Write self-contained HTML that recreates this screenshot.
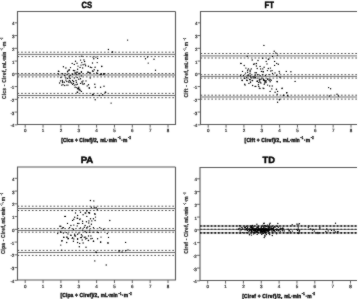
<!DOCTYPE html>
<html><head><meta charset="utf-8"><style>
html,body{margin:0;padding:0;background:#fff;}
svg{display:block;}
.wrap{filter:grayscale(1);}
text{font-family:"Liberation Sans", sans-serif;text-rendering:geometricPrecision;}
</style></head><body>
<div class="wrap"><svg width="358" height="299" viewBox="0 0 358 299" xmlns="http://www.w3.org/2000/svg">
<defs><filter id="bl" x="0" y="0" width="358" height="299" filterUnits="userSpaceOnUse" color-interpolation-filters="sRGB"><feConvolveMatrix order="3" kernelMatrix="1 2 1 2 24 2 1 2 1" divisor="36" edgeMode="duplicate" preserveAlpha="true"/></filter></defs>
<g filter="url(#bl)">
<rect width="358" height="299" fill="#fff"/>
<g transform="translate(0,0)">
<path d="M175.5,11.5 H17.5 V124.5 H175.5 V11.5" fill="none" stroke="#585858" stroke-width="1.1"/>
<line x1="14.6" y1="124.82" x2="17.5" y2="124.82" stroke="#555" stroke-width="0.9"/>
<text x="14.4" y="127.32" font-size="4.5" text-anchor="end" fill="#262626" stroke="#262626" stroke-width="0.2">-4</text>
<line x1="14.6" y1="112.07" x2="17.5" y2="112.07" stroke="#555" stroke-width="0.9"/>
<text x="14.4" y="114.57" font-size="4.5" text-anchor="end" fill="#262626" stroke="#262626" stroke-width="0.2">-3</text>
<line x1="14.6" y1="99.32" x2="17.5" y2="99.32" stroke="#555" stroke-width="0.9"/>
<text x="14.4" y="101.82" font-size="4.5" text-anchor="end" fill="#262626" stroke="#262626" stroke-width="0.2">-2</text>
<line x1="14.6" y1="86.57" x2="17.5" y2="86.57" stroke="#555" stroke-width="0.9"/>
<text x="14.4" y="89.07" font-size="4.5" text-anchor="end" fill="#262626" stroke="#262626" stroke-width="0.2">-1</text>
<line x1="14.6" y1="73.82" x2="17.5" y2="73.82" stroke="#555" stroke-width="0.9"/>
<text x="14.4" y="76.32" font-size="4.5" text-anchor="end" fill="#262626" stroke="#262626" stroke-width="0.2">0</text>
<line x1="14.6" y1="61.07" x2="17.5" y2="61.07" stroke="#555" stroke-width="0.9"/>
<text x="14.4" y="63.57" font-size="4.5" text-anchor="end" fill="#262626" stroke="#262626" stroke-width="0.2">1</text>
<line x1="14.6" y1="48.32" x2="17.5" y2="48.32" stroke="#555" stroke-width="0.9"/>
<text x="14.4" y="50.82" font-size="4.5" text-anchor="end" fill="#262626" stroke="#262626" stroke-width="0.2">2</text>
<line x1="14.6" y1="35.57" x2="17.5" y2="35.57" stroke="#555" stroke-width="0.9"/>
<text x="14.4" y="38.07" font-size="4.5" text-anchor="end" fill="#262626" stroke="#262626" stroke-width="0.2">3</text>
<line x1="14.6" y1="22.82" x2="17.5" y2="22.82" stroke="#555" stroke-width="0.9"/>
<text x="14.4" y="25.32" font-size="4.5" text-anchor="end" fill="#262626" stroke="#262626" stroke-width="0.2">4</text>
<line x1="25.20" y1="124.5" x2="25.20" y2="127.6" stroke="#555" stroke-width="0.9"/>
<text x="25.20" y="132.3" font-size="4.5" text-anchor="middle" fill="#262626" stroke="#262626" stroke-width="0.2">0</text>
<line x1="43.05" y1="124.5" x2="43.05" y2="127.6" stroke="#555" stroke-width="0.9"/>
<text x="43.05" y="132.3" font-size="4.5" text-anchor="middle" fill="#262626" stroke="#262626" stroke-width="0.2">1</text>
<line x1="60.90" y1="124.5" x2="60.90" y2="127.6" stroke="#555" stroke-width="0.9"/>
<text x="60.90" y="132.3" font-size="4.5" text-anchor="middle" fill="#262626" stroke="#262626" stroke-width="0.2">2</text>
<line x1="78.75" y1="124.5" x2="78.75" y2="127.6" stroke="#555" stroke-width="0.9"/>
<text x="78.75" y="132.3" font-size="4.5" text-anchor="middle" fill="#262626" stroke="#262626" stroke-width="0.2">3</text>
<line x1="96.60" y1="124.5" x2="96.60" y2="127.6" stroke="#555" stroke-width="0.9"/>
<text x="96.60" y="132.3" font-size="4.5" text-anchor="middle" fill="#262626" stroke="#262626" stroke-width="0.2">4</text>
<line x1="114.45" y1="124.5" x2="114.45" y2="127.6" stroke="#555" stroke-width="0.9"/>
<text x="114.45" y="132.3" font-size="4.5" text-anchor="middle" fill="#262626" stroke="#262626" stroke-width="0.2">5</text>
<line x1="132.30" y1="124.5" x2="132.30" y2="127.6" stroke="#555" stroke-width="0.9"/>
<text x="132.30" y="132.3" font-size="4.5" text-anchor="middle" fill="#262626" stroke="#262626" stroke-width="0.2">6</text>
<line x1="150.15" y1="124.5" x2="150.15" y2="127.6" stroke="#555" stroke-width="0.9"/>
<text x="150.15" y="132.3" font-size="4.5" text-anchor="middle" fill="#262626" stroke="#262626" stroke-width="0.2">7</text>
<line x1="168.00" y1="124.5" x2="168.00" y2="127.6" stroke="#555" stroke-width="0.9"/>
<text x="168.00" y="132.3" font-size="4.5" text-anchor="middle" fill="#262626" stroke="#262626" stroke-width="0.2">8</text>
<line x1="17.5" y1="52.2" x2="175.5" y2="52.2" stroke="#505050" stroke-width="1.0" stroke-dasharray="1.7 1.9"/>
<line x1="17.5" y1="54.4" x2="175.5" y2="54.4" stroke="#707070" stroke-width="1"/>
<line x1="17.5" y1="56.6" x2="175.5" y2="56.6" stroke="#505050" stroke-width="1.0" stroke-dasharray="1.7 1.9"/>
<line x1="17.5" y1="73.5" x2="175.5" y2="73.5" stroke="#505050" stroke-width="1.0" stroke-dasharray="1.7 1.9"/>
<line x1="17.5" y1="75.0" x2="175.5" y2="75.0" stroke="#707070" stroke-width="1"/>
<line x1="17.5" y1="76.9" x2="175.5" y2="76.9" stroke="#505050" stroke-width="1.0" stroke-dasharray="1.7 1.9"/>
<line x1="17.5" y1="93.4" x2="175.5" y2="93.4" stroke="#505050" stroke-width="1.0" stroke-dasharray="1.7 1.9"/>
<line x1="17.5" y1="95.5" x2="175.5" y2="95.5" stroke="#707070" stroke-width="1"/>
<line x1="17.5" y1="97.7" x2="175.5" y2="97.7" stroke="#505050" stroke-width="1.0" stroke-dasharray="1.7 1.9"/>
<text x="81.40" y="7.50" font-size="9.1" font-weight="bold" fill="#000" stroke="#000" stroke-width="0.45" textLength="10.60" lengthAdjust="spacingAndGlyphs">CS</text>
<text transform="translate(61.25,141.50) scale(0.860,1)" font-size="5.7" font-weight="bold" fill="#151515" stroke="#151515" stroke-width="0.45" textLength="42.91" lengthAdjust="spacing">[Clcs + Clref]/2,</text>
<text transform="translate(100.15,141.50) scale(0.816,1)" font-size="5.7" font-weight="bold" fill="#151515" stroke="#151515" stroke-width="0.45" textLength="20.58" lengthAdjust="spacing">mL·min</text>
<text transform="translate(117.65,139.30) scale(0.626,1)" font-size="4.2" font-weight="bold" fill="#151515" stroke="#151515" stroke-width="0.45" textLength="4.79" lengthAdjust="spacing">−1</text>
<text transform="translate(121.35,141.50) scale(0.860,1)" font-size="5.7" font-weight="bold" fill="#151515" stroke="#151515" stroke-width="0.45" textLength="7.09" lengthAdjust="spacing">·m</text>
<text transform="translate(128.05,139.30) scale(0.585,1)" font-size="4.2" font-weight="bold" fill="#151515" stroke="#151515" stroke-width="0.45" textLength="4.79" lengthAdjust="spacing">−2</text>
<g transform="translate(5.6,68.25) rotate(-90)">
<text transform="translate(-30.70,0.00) scale(0.860,1)" font-size="5.7" font-weight="bold" fill="#2a2a2a" stroke="#2a2a2a" stroke-width="0.22" textLength="34.65" lengthAdjust="spacing">Clcs - Clref,</text>
<text transform="translate(0.30,0.00) scale(0.782,1)" font-size="5.7" font-weight="bold" fill="#2a2a2a" stroke="#2a2a2a" stroke-width="0.22" textLength="20.58" lengthAdjust="spacing">mL·min</text>
<text transform="translate(18.00,-2.20) scale(0.459,1)" font-size="4.2" font-weight="bold" fill="#2a2a2a" stroke="#2a2a2a" stroke-width="0.22" textLength="4.79" lengthAdjust="spacing">−1</text>
<text transform="translate(20.70,0.00) scale(0.860,1)" font-size="5.7" font-weight="bold" fill="#2a2a2a" stroke="#2a2a2a" stroke-width="0.22" textLength="6.98" lengthAdjust="spacing">·m</text>
<text transform="translate(28.50,-2.20) scale(0.459,1)" font-size="4.2" font-weight="bold" fill="#2a2a2a" stroke="#2a2a2a" stroke-width="0.22" textLength="4.79" lengthAdjust="spacing">−2</text>
</g>
</g>
<circle cx="81.8" cy="56.3" r="0.7" fill="#000"/>
<circle cx="80.6" cy="60.1" r="0.7" fill="#000"/>
<circle cx="83.9" cy="59.9" r="0.7" fill="#000"/>
<circle cx="75.5" cy="61.3" r="0.7" fill="#000"/>
<circle cx="77" cy="63.2" r="0.7" fill="#000"/>
<circle cx="72.2" cy="63.4" r="0.7" fill="#000"/>
<circle cx="74.3" cy="64.4" r="0.7" fill="#000"/>
<circle cx="81.8" cy="62.6" r="0.7" fill="#000"/>
<circle cx="81" cy="65.1" r="0.7" fill="#000"/>
<circle cx="83.1" cy="64.7" r="0.7" fill="#000"/>
<circle cx="78" cy="66.1" r="0.7" fill="#000"/>
<circle cx="80.1" cy="67.4" r="0.7" fill="#000"/>
<circle cx="63.4" cy="66.8" r="0.7" fill="#000"/>
<circle cx="65.9" cy="68" r="0.7" fill="#000"/>
<circle cx="70.5" cy="67.6" r="0.7" fill="#000"/>
<circle cx="82.7" cy="68" r="0.7" fill="#000"/>
<circle cx="69.2" cy="69.7" r="0.7" fill="#000"/>
<circle cx="73.4" cy="70.5" r="0.7" fill="#000"/>
<circle cx="77.6" cy="69.3" r="0.7" fill="#000"/>
<circle cx="58.8" cy="71.4" r="0.7" fill="#000"/>
<circle cx="67.6" cy="71.8" r="0.7" fill="#000"/>
<circle cx="75.1" cy="72.6" r="0.7" fill="#000"/>
<circle cx="76.8" cy="72.2" r="0.7" fill="#000"/>
<circle cx="81.4" cy="72.2" r="0.7" fill="#000"/>
<circle cx="79.3" cy="73.5" r="0.7" fill="#000"/>
<circle cx="112.2" cy="52.1" r="0.7" fill="#000"/>
<circle cx="93" cy="57.1" r="0.7" fill="#000"/>
<circle cx="93.8" cy="58.8" r="0.7" fill="#000"/>
<circle cx="95.9" cy="57.1" r="0.7" fill="#000"/>
<circle cx="97.6" cy="58.4" r="0.7" fill="#000"/>
<circle cx="92.5" cy="63" r="0.7" fill="#000"/>
<circle cx="97.2" cy="62.6" r="0.7" fill="#000"/>
<circle cx="85" cy="64.2" r="0.7" fill="#000"/>
<circle cx="88.4" cy="66.3" r="0.7" fill="#000"/>
<circle cx="90.4" cy="67.2" r="0.7" fill="#000"/>
<circle cx="91.7" cy="67.6" r="0.7" fill="#000"/>
<circle cx="95.1" cy="67.2" r="0.7" fill="#000"/>
<circle cx="101.8" cy="66.3" r="0.7" fill="#000"/>
<circle cx="94.2" cy="69.7" r="0.7" fill="#000"/>
<circle cx="97.6" cy="70.5" r="0.7" fill="#000"/>
<circle cx="92.5" cy="71" r="0.7" fill="#000"/>
<circle cx="88.4" cy="72.2" r="0.7" fill="#000"/>
<circle cx="90" cy="72.6" r="0.7" fill="#000"/>
<circle cx="96.7" cy="73" r="0.7" fill="#000"/>
<circle cx="101.3" cy="73.9" r="0.7" fill="#000"/>
<circle cx="103.9" cy="73.9" r="0.7" fill="#000"/>
<circle cx="58.4" cy="71.3" r="0.7" fill="#000"/>
<circle cx="67.6" cy="71.3" r="0.7" fill="#000"/>
<circle cx="68.9" cy="70.4" r="0.7" fill="#000"/>
<circle cx="74.7" cy="70.8" r="0.7" fill="#000"/>
<circle cx="77.7" cy="72.1" r="0.7" fill="#000"/>
<circle cx="62.6" cy="73.8" r="0.7" fill="#000"/>
<circle cx="64.7" cy="75.4" r="0.7" fill="#000"/>
<circle cx="67.2" cy="74.2" r="0.7" fill="#000"/>
<circle cx="70.1" cy="75.4" r="0.7" fill="#000"/>
<circle cx="72.6" cy="74.2" r="0.7" fill="#000"/>
<circle cx="75.1" cy="73.8" r="0.7" fill="#000"/>
<circle cx="76.8" cy="74.6" r="0.7" fill="#000"/>
<circle cx="78.9" cy="73.8" r="0.7" fill="#000"/>
<circle cx="60.9" cy="77.5" r="0.7" fill="#000"/>
<circle cx="65.9" cy="78" r="0.7" fill="#000"/>
<circle cx="67.6" cy="78.4" r="0.7" fill="#000"/>
<circle cx="70.1" cy="78.4" r="0.7" fill="#000"/>
<circle cx="74.3" cy="78" r="0.7" fill="#000"/>
<circle cx="77.2" cy="77.5" r="0.7" fill="#000"/>
<circle cx="65.9" cy="80.1" r="0.7" fill="#000"/>
<circle cx="69.3" cy="80.5" r="0.7" fill="#000"/>
<circle cx="72.6" cy="80.5" r="0.7" fill="#000"/>
<circle cx="76" cy="80.5" r="0.7" fill="#000"/>
<circle cx="60.5" cy="80.9" r="0.7" fill="#000"/>
<circle cx="62.6" cy="81.7" r="0.7" fill="#000"/>
<circle cx="59.6" cy="83" r="0.7" fill="#000"/>
<circle cx="62.6" cy="82.6" r="0.7" fill="#000"/>
<circle cx="70.1" cy="82.6" r="0.7" fill="#000"/>
<circle cx="73.5" cy="83.4" r="0.7" fill="#000"/>
<circle cx="76.4" cy="82.2" r="0.7" fill="#000"/>
<circle cx="61.7" cy="85.1" r="0.7" fill="#000"/>
<circle cx="64.7" cy="85.5" r="0.7" fill="#000"/>
<circle cx="66.8" cy="85.1" r="0.7" fill="#000"/>
<circle cx="68" cy="85.1" r="0.7" fill="#000"/>
<circle cx="74.3" cy="85.1" r="0.7" fill="#000"/>
<circle cx="76" cy="84.7" r="0.7" fill="#000"/>
<circle cx="75.1" cy="87.2" r="0.7" fill="#000"/>
<circle cx="76.8" cy="87.6" r="0.7" fill="#000"/>
<circle cx="78.5" cy="88.4" r="0.7" fill="#000"/>
<circle cx="77.2" cy="92.2" r="0.7" fill="#000"/>
<circle cx="78.9" cy="89.7" r="0.7" fill="#000"/>
<circle cx="81.4" cy="71.7" r="0.7" fill="#000"/>
<circle cx="79.7" cy="73.4" r="0.7" fill="#000"/>
<circle cx="87.6" cy="72.1" r="0.7" fill="#000"/>
<circle cx="89.7" cy="72.9" r="0.7" fill="#000"/>
<circle cx="93.1" cy="71.3" r="0.7" fill="#000"/>
<circle cx="97.7" cy="70.8" r="0.7" fill="#000"/>
<circle cx="97.3" cy="73.4" r="0.7" fill="#000"/>
<circle cx="100.2" cy="74.6" r="0.7" fill="#000"/>
<circle cx="104" cy="73.8" r="0.7" fill="#000"/>
<circle cx="81.4" cy="75.9" r="0.7" fill="#000"/>
<circle cx="90.2" cy="78" r="0.7" fill="#000"/>
<circle cx="78.8" cy="79.2" r="0.7" fill="#000"/>
<circle cx="80.5" cy="78.8" r="0.7" fill="#000"/>
<circle cx="83" cy="80.9" r="0.7" fill="#000"/>
<circle cx="86" cy="80.9" r="0.7" fill="#000"/>
<circle cx="82.2" cy="83" r="0.7" fill="#000"/>
<circle cx="84.3" cy="83.8" r="0.7" fill="#000"/>
<circle cx="80.5" cy="83.4" r="0.7" fill="#000"/>
<circle cx="88.5" cy="84.7" r="0.7" fill="#000"/>
<circle cx="87.2" cy="85.9" r="0.7" fill="#000"/>
<circle cx="94.8" cy="84.2" r="0.7" fill="#000"/>
<circle cx="89.3" cy="88" r="0.7" fill="#000"/>
<circle cx="95.2" cy="87.2" r="0.7" fill="#000"/>
<circle cx="100.6" cy="87.2" r="0.7" fill="#000"/>
<circle cx="104" cy="86.3" r="0.7" fill="#000"/>
<circle cx="78.8" cy="87.2" r="0.7" fill="#000"/>
<circle cx="79.7" cy="89.3" r="0.7" fill="#000"/>
<circle cx="81.4" cy="91.4" r="0.7" fill="#000"/>
<circle cx="105.7" cy="92.2" r="0.7" fill="#000"/>
<circle cx="93.1" cy="94.3" r="0.7" fill="#000"/>
<circle cx="77.6" cy="88.8" r="0.7" fill="#000"/>
<circle cx="80.1" cy="90.5" r="0.7" fill="#000"/>
<circle cx="77.6" cy="92.2" r="0.7" fill="#000"/>
<circle cx="89.3" cy="88" r="0.7" fill="#000"/>
<circle cx="92.7" cy="94.7" r="0.7" fill="#000"/>
<circle cx="99.4" cy="95.5" r="0.7" fill="#000"/>
<circle cx="102.7" cy="94.7" r="0.7" fill="#000"/>
<circle cx="105.2" cy="92.2" r="0.7" fill="#000"/>
<circle cx="95.2" cy="99.7" r="0.7" fill="#000"/>
<circle cx="111.1" cy="103.1" r="0.7" fill="#000"/>
<circle cx="127.6" cy="40.1" r="0.7" fill="#000"/>
<circle cx="108.4" cy="49.5" r="0.7" fill="#000"/>
<circle cx="112.6" cy="52" r="0.7" fill="#000"/>
<circle cx="145.5" cy="58.8" r="0.7" fill="#000"/>
<circle cx="147.5" cy="57" r="0.7" fill="#000"/>
<circle cx="154" cy="59.3" r="0.7" fill="#000"/>
<circle cx="148.2" cy="63.1" r="0.7" fill="#000"/>
<circle cx="155.5" cy="70.2" r="0.7" fill="#000"/>
<circle cx="101.7" cy="66.6" r="0.7" fill="#000"/>
<circle cx="101" cy="74.4" r="0.7" fill="#000"/>
<circle cx="103.8" cy="74" r="0.7" fill="#000"/>
<circle cx="66.8" cy="81.5" r="0.7" fill="#000"/>
<circle cx="69.6" cy="77" r="0.7" fill="#000"/>
<circle cx="70.3" cy="81.3" r="0.7" fill="#000"/>
<circle cx="73.6" cy="81.5" r="0.7" fill="#000"/>
<circle cx="62.3" cy="80.5" r="0.7" fill="#000"/>
<circle cx="64.3" cy="82.3" r="0.7" fill="#000"/>
<circle cx="68.6" cy="82" r="0.7" fill="#000"/>
<circle cx="71.6" cy="83" r="0.7" fill="#000"/>
<circle cx="63" cy="84.8" r="0.7" fill="#000"/>
<circle cx="58.5" cy="74" r="0.7" fill="#000"/>
<circle cx="82" cy="81.8" r="0.7" fill="#000"/>
<circle cx="77.3" cy="84.3" r="0.7" fill="#000"/>
<circle cx="84.6" cy="61.5" r="0.7" fill="#000"/>
<circle cx="85.6" cy="65.8" r="0.7" fill="#000"/>
<circle cx="72.6" cy="84.3" r="0.7" fill="#000"/>
<circle cx="83" cy="84.3" r="0.7" fill="#000"/>
<g transform="translate(183,0)">
<path d="M174,11.5 H17.5 V124.5 H174" fill="none" stroke="#585858" stroke-width="1.1"/>
<line x1="14.6" y1="124.82" x2="17.5" y2="124.82" stroke="#555" stroke-width="0.9"/>
<text x="14.4" y="127.32" font-size="4.5" text-anchor="end" fill="#262626" stroke="#262626" stroke-width="0.2">-4</text>
<line x1="14.6" y1="112.07" x2="17.5" y2="112.07" stroke="#555" stroke-width="0.9"/>
<text x="14.4" y="114.57" font-size="4.5" text-anchor="end" fill="#262626" stroke="#262626" stroke-width="0.2">-3</text>
<line x1="14.6" y1="99.32" x2="17.5" y2="99.32" stroke="#555" stroke-width="0.9"/>
<text x="14.4" y="101.82" font-size="4.5" text-anchor="end" fill="#262626" stroke="#262626" stroke-width="0.2">-2</text>
<line x1="14.6" y1="86.57" x2="17.5" y2="86.57" stroke="#555" stroke-width="0.9"/>
<text x="14.4" y="89.07" font-size="4.5" text-anchor="end" fill="#262626" stroke="#262626" stroke-width="0.2">-1</text>
<line x1="14.6" y1="73.82" x2="17.5" y2="73.82" stroke="#555" stroke-width="0.9"/>
<text x="14.4" y="76.32" font-size="4.5" text-anchor="end" fill="#262626" stroke="#262626" stroke-width="0.2">0</text>
<line x1="14.6" y1="61.07" x2="17.5" y2="61.07" stroke="#555" stroke-width="0.9"/>
<text x="14.4" y="63.57" font-size="4.5" text-anchor="end" fill="#262626" stroke="#262626" stroke-width="0.2">1</text>
<line x1="14.6" y1="48.32" x2="17.5" y2="48.32" stroke="#555" stroke-width="0.9"/>
<text x="14.4" y="50.82" font-size="4.5" text-anchor="end" fill="#262626" stroke="#262626" stroke-width="0.2">2</text>
<line x1="14.6" y1="35.57" x2="17.5" y2="35.57" stroke="#555" stroke-width="0.9"/>
<text x="14.4" y="38.07" font-size="4.5" text-anchor="end" fill="#262626" stroke="#262626" stroke-width="0.2">3</text>
<line x1="14.6" y1="22.82" x2="17.5" y2="22.82" stroke="#555" stroke-width="0.9"/>
<text x="14.4" y="25.32" font-size="4.5" text-anchor="end" fill="#262626" stroke="#262626" stroke-width="0.2">4</text>
<line x1="25.20" y1="124.5" x2="25.20" y2="127.6" stroke="#555" stroke-width="0.9"/>
<text x="25.20" y="132.3" font-size="4.5" text-anchor="middle" fill="#262626" stroke="#262626" stroke-width="0.2">0</text>
<line x1="43.05" y1="124.5" x2="43.05" y2="127.6" stroke="#555" stroke-width="0.9"/>
<text x="43.05" y="132.3" font-size="4.5" text-anchor="middle" fill="#262626" stroke="#262626" stroke-width="0.2">1</text>
<line x1="60.90" y1="124.5" x2="60.90" y2="127.6" stroke="#555" stroke-width="0.9"/>
<text x="60.90" y="132.3" font-size="4.5" text-anchor="middle" fill="#262626" stroke="#262626" stroke-width="0.2">2</text>
<line x1="78.75" y1="124.5" x2="78.75" y2="127.6" stroke="#555" stroke-width="0.9"/>
<text x="78.75" y="132.3" font-size="4.5" text-anchor="middle" fill="#262626" stroke="#262626" stroke-width="0.2">3</text>
<line x1="96.60" y1="124.5" x2="96.60" y2="127.6" stroke="#555" stroke-width="0.9"/>
<text x="96.60" y="132.3" font-size="4.5" text-anchor="middle" fill="#262626" stroke="#262626" stroke-width="0.2">4</text>
<line x1="114.45" y1="124.5" x2="114.45" y2="127.6" stroke="#555" stroke-width="0.9"/>
<text x="114.45" y="132.3" font-size="4.5" text-anchor="middle" fill="#262626" stroke="#262626" stroke-width="0.2">5</text>
<line x1="132.30" y1="124.5" x2="132.30" y2="127.6" stroke="#555" stroke-width="0.9"/>
<text x="132.30" y="132.3" font-size="4.5" text-anchor="middle" fill="#262626" stroke="#262626" stroke-width="0.2">6</text>
<line x1="150.15" y1="124.5" x2="150.15" y2="127.6" stroke="#555" stroke-width="0.9"/>
<text x="150.15" y="132.3" font-size="4.5" text-anchor="middle" fill="#262626" stroke="#262626" stroke-width="0.2">7</text>
<line x1="168.00" y1="124.5" x2="168.00" y2="127.6" stroke="#555" stroke-width="0.9"/>
<text x="168.00" y="132.3" font-size="4.5" text-anchor="middle" fill="#262626" stroke="#262626" stroke-width="0.2">8</text>
<line x1="17.5" y1="53.5" x2="174" y2="53.5" stroke="#505050" stroke-width="1.0" stroke-dasharray="1.7 1.9"/>
<line x1="17.5" y1="55.9" x2="174" y2="55.9" stroke="#707070" stroke-width="1"/>
<line x1="17.5" y1="58.0" x2="174" y2="58.0" stroke="#505050" stroke-width="1.0" stroke-dasharray="1.7 1.9"/>
<line x1="17.5" y1="74.7" x2="174" y2="74.7" stroke="#505050" stroke-width="1.0" stroke-dasharray="1.7 1.9"/>
<line x1="17.5" y1="76.4" x2="174" y2="76.4" stroke="#707070" stroke-width="1"/>
<line x1="17.5" y1="78.1" x2="174" y2="78.1" stroke="#505050" stroke-width="1.0" stroke-dasharray="1.7 1.9"/>
<line x1="17.5" y1="95.2" x2="174" y2="95.2" stroke="#505050" stroke-width="1.0" stroke-dasharray="1.7 1.9"/>
<line x1="17.5" y1="97.0" x2="174" y2="97.0" stroke="#707070" stroke-width="1"/>
<line x1="17.5" y1="99.1" x2="174" y2="99.1" stroke="#505050" stroke-width="1.0" stroke-dasharray="1.7 1.9"/>
<text x="81.60" y="7.50" font-size="9.1" font-weight="bold" fill="#000" stroke="#000" stroke-width="0.45" textLength="9.40" lengthAdjust="spacingAndGlyphs">FT</text>
<text transform="translate(61.60,141.50) scale(0.860,1)" font-size="5.7" font-weight="bold" fill="#151515" stroke="#151515" stroke-width="0.45" textLength="42.09" lengthAdjust="spacing">[Clft + Clref]/2,</text>
<text transform="translate(99.80,141.50) scale(0.816,1)" font-size="5.7" font-weight="bold" fill="#151515" stroke="#151515" stroke-width="0.45" textLength="20.58" lengthAdjust="spacing">mL·min</text>
<text transform="translate(117.30,139.30) scale(0.626,1)" font-size="4.2" font-weight="bold" fill="#151515" stroke="#151515" stroke-width="0.45" textLength="4.79" lengthAdjust="spacing">−1</text>
<text transform="translate(121.00,141.50) scale(0.860,1)" font-size="5.7" font-weight="bold" fill="#151515" stroke="#151515" stroke-width="0.45" textLength="7.09" lengthAdjust="spacing">·m</text>
<text transform="translate(127.70,139.30) scale(0.585,1)" font-size="4.2" font-weight="bold" fill="#151515" stroke="#151515" stroke-width="0.45" textLength="4.79" lengthAdjust="spacing">−2</text>
<g transform="translate(5.0,67.8) rotate(-90)">
<text transform="translate(-29.80,0.00) scale(0.860,1)" font-size="5.7" font-weight="bold" fill="#2a2a2a" stroke="#2a2a2a" stroke-width="0.22" textLength="32.56" lengthAdjust="spacing">Clft - Clref,</text>
<text transform="translate(-0.60,0.00) scale(0.782,1)" font-size="5.7" font-weight="bold" fill="#2a2a2a" stroke="#2a2a2a" stroke-width="0.22" textLength="20.58" lengthAdjust="spacing">mL·min</text>
<text transform="translate(17.10,-2.20) scale(0.459,1)" font-size="4.2" font-weight="bold" fill="#2a2a2a" stroke="#2a2a2a" stroke-width="0.22" textLength="4.79" lengthAdjust="spacing">−1</text>
<text transform="translate(19.80,0.00) scale(0.860,1)" font-size="5.7" font-weight="bold" fill="#2a2a2a" stroke="#2a2a2a" stroke-width="0.22" textLength="6.98" lengthAdjust="spacing">·m</text>
<text transform="translate(27.60,-2.20) scale(0.459,1)" font-size="4.2" font-weight="bold" fill="#2a2a2a" stroke="#2a2a2a" stroke-width="0.22" textLength="4.79" lengthAdjust="spacing">−2</text>
</g>
</g>
<circle cx="263.9" cy="45.4" r="0.7" fill="#000"/>
<circle cx="247.2" cy="56.3" r="0.7" fill="#000"/>
<circle cx="262.7" cy="58.3" r="0.7" fill="#000"/>
<circle cx="252.2" cy="60" r="0.7" fill="#000"/>
<circle cx="258" cy="60.5" r="0.7" fill="#000"/>
<circle cx="240.9" cy="63.5" r="0.7" fill="#000"/>
<circle cx="254.7" cy="63.9" r="0.7" fill="#000"/>
<circle cx="256.4" cy="63.5" r="0.7" fill="#000"/>
<circle cx="274.2" cy="51.3" r="0.7" fill="#000"/>
<circle cx="275.8" cy="53" r="0.7" fill="#000"/>
<circle cx="277.5" cy="55.1" r="0.7" fill="#000"/>
<circle cx="272.5" cy="56.4" r="0.7" fill="#000"/>
<circle cx="268.3" cy="59.3" r="0.7" fill="#000"/>
<circle cx="240.9" cy="63.4" r="0.7" fill="#000"/>
<circle cx="244.2" cy="65.5" r="0.7" fill="#000"/>
<circle cx="256.4" cy="66" r="0.7" fill="#000"/>
<circle cx="260.1" cy="66.4" r="0.7" fill="#000"/>
<circle cx="245.9" cy="68.1" r="0.7" fill="#000"/>
<circle cx="251.3" cy="68.9" r="0.7" fill="#000"/>
<circle cx="250.1" cy="70.2" r="0.7" fill="#000"/>
<circle cx="248.4" cy="68.9" r="0.7" fill="#000"/>
<circle cx="247.6" cy="70.2" r="0.7" fill="#000"/>
<circle cx="257.2" cy="68.5" r="0.7" fill="#000"/>
<circle cx="260.6" cy="68.9" r="0.7" fill="#000"/>
<circle cx="242.5" cy="71.4" r="0.7" fill="#000"/>
<circle cx="250.1" cy="71.8" r="0.7" fill="#000"/>
<circle cx="245.5" cy="73.1" r="0.7" fill="#000"/>
<circle cx="247.6" cy="72.2" r="0.7" fill="#000"/>
<circle cx="255.1" cy="72.7" r="0.7" fill="#000"/>
<circle cx="261.4" cy="71.4" r="0.7" fill="#000"/>
<circle cx="263.1" cy="71.8" r="0.7" fill="#000"/>
<circle cx="243.4" cy="75.6" r="0.7" fill="#000"/>
<circle cx="247.2" cy="75.6" r="0.7" fill="#000"/>
<circle cx="248.8" cy="75.2" r="0.7" fill="#000"/>
<circle cx="250.5" cy="76" r="0.7" fill="#000"/>
<circle cx="253" cy="76.9" r="0.7" fill="#000"/>
<circle cx="255.1" cy="75.2" r="0.7" fill="#000"/>
<circle cx="257.6" cy="74.8" r="0.7" fill="#000"/>
<circle cx="260.1" cy="75.6" r="0.7" fill="#000"/>
<circle cx="262.7" cy="74.8" r="0.7" fill="#000"/>
<circle cx="244.2" cy="78.1" r="0.7" fill="#000"/>
<circle cx="246.7" cy="77.7" r="0.7" fill="#000"/>
<circle cx="250.9" cy="77.7" r="0.7" fill="#000"/>
<circle cx="253.9" cy="78.1" r="0.7" fill="#000"/>
<circle cx="257.2" cy="78.1" r="0.7" fill="#000"/>
<circle cx="259.7" cy="79.4" r="0.7" fill="#000"/>
<circle cx="261.8" cy="78.1" r="0.7" fill="#000"/>
<circle cx="242.1" cy="80.2" r="0.7" fill="#000"/>
<circle cx="246.7" cy="80.2" r="0.7" fill="#000"/>
<circle cx="249.7" cy="79.4" r="0.7" fill="#000"/>
<circle cx="252.6" cy="80.6" r="0.7" fill="#000"/>
<circle cx="250.5" cy="81.9" r="0.7" fill="#000"/>
<circle cx="257.2" cy="81" r="0.7" fill="#000"/>
<circle cx="259.7" cy="81" r="0.7" fill="#000"/>
<circle cx="263.5" cy="80.2" r="0.7" fill="#000"/>
<circle cx="260.1" cy="82.3" r="0.7" fill="#000"/>
<circle cx="268.7" cy="59.3" r="0.7" fill="#000"/>
<circle cx="266.2" cy="61.4" r="0.7" fill="#000"/>
<circle cx="267" cy="63.9" r="0.7" fill="#000"/>
<circle cx="274.6" cy="61.4" r="0.7" fill="#000"/>
<circle cx="276.7" cy="63.4" r="0.7" fill="#000"/>
<circle cx="278.3" cy="64.3" r="0.7" fill="#000"/>
<circle cx="274.6" cy="65.4" r="0.7" fill="#000"/>
<circle cx="264.1" cy="67.2" r="0.7" fill="#000"/>
<circle cx="268.3" cy="68.5" r="0.7" fill="#000"/>
<circle cx="270.4" cy="68.1" r="0.7" fill="#000"/>
<circle cx="262.8" cy="68.9" r="0.7" fill="#000"/>
<circle cx="267.4" cy="70.6" r="0.7" fill="#000"/>
<circle cx="270.8" cy="71" r="0.7" fill="#000"/>
<circle cx="272.1" cy="70.6" r="0.7" fill="#000"/>
<circle cx="263.3" cy="71.8" r="0.7" fill="#000"/>
<circle cx="272.5" cy="73.5" r="0.7" fill="#000"/>
<circle cx="275" cy="72.9" r="0.7" fill="#000"/>
<circle cx="279.2" cy="71.4" r="0.7" fill="#000"/>
<circle cx="279.6" cy="73.1" r="0.7" fill="#000"/>
<circle cx="286.3" cy="71.4" r="0.7" fill="#000"/>
<circle cx="290.9" cy="71.8" r="0.7" fill="#000"/>
<circle cx="265.4" cy="75.6" r="0.7" fill="#000"/>
<circle cx="276.7" cy="75.6" r="0.7" fill="#000"/>
<circle cx="280" cy="77.3" r="0.7" fill="#000"/>
<circle cx="263.7" cy="79.4" r="0.7" fill="#000"/>
<circle cx="265.4" cy="81" r="0.7" fill="#000"/>
<circle cx="267.9" cy="79" r="0.7" fill="#000"/>
<circle cx="269.1" cy="80.2" r="0.7" fill="#000"/>
<circle cx="271.2" cy="80.2" r="0.7" fill="#000"/>
<circle cx="277.1" cy="81.5" r="0.7" fill="#000"/>
<circle cx="242.2" cy="80.5" r="0.7" fill="#000"/>
<circle cx="247.2" cy="80.5" r="0.7" fill="#000"/>
<circle cx="250.1" cy="79.7" r="0.7" fill="#000"/>
<circle cx="252.2" cy="80.5" r="0.7" fill="#000"/>
<circle cx="244.7" cy="78.4" r="0.7" fill="#000"/>
<circle cx="248.9" cy="83.4" r="0.7" fill="#000"/>
<circle cx="250.5" cy="82.6" r="0.7" fill="#000"/>
<circle cx="244.7" cy="84.3" r="0.7" fill="#000"/>
<circle cx="245.1" cy="85.1" r="0.7" fill="#000"/>
<circle cx="252.6" cy="85.5" r="0.7" fill="#000"/>
<circle cx="255.1" cy="86.4" r="0.7" fill="#000"/>
<circle cx="257.2" cy="81.4" r="0.7" fill="#000"/>
<circle cx="258.5" cy="82.6" r="0.7" fill="#000"/>
<circle cx="259.3" cy="88.1" r="0.7" fill="#000"/>
<circle cx="257.5" cy="81.4" r="0.7" fill="#000"/>
<circle cx="259.2" cy="80.1" r="0.7" fill="#000"/>
<circle cx="260.9" cy="79.2" r="0.7" fill="#000"/>
<circle cx="263.4" cy="79.3" r="0.7" fill="#000"/>
<circle cx="264.6" cy="80.5" r="0.7" fill="#000"/>
<circle cx="266.3" cy="80.9" r="0.7" fill="#000"/>
<circle cx="267.6" cy="79.3" r="0.7" fill="#000"/>
<circle cx="270.1" cy="79.7" r="0.7" fill="#000"/>
<circle cx="265.1" cy="81.8" r="0.7" fill="#000"/>
<circle cx="260.9" cy="83" r="0.7" fill="#000"/>
<circle cx="270.1" cy="81.8" r="0.7" fill="#000"/>
<circle cx="277.2" cy="81.8" r="0.7" fill="#000"/>
<circle cx="255.8" cy="86.4" r="0.7" fill="#000"/>
<circle cx="258.4" cy="84.7" r="0.7" fill="#000"/>
<circle cx="258.8" cy="86.4" r="0.7" fill="#000"/>
<circle cx="264.2" cy="84.3" r="0.7" fill="#000"/>
<circle cx="267.6" cy="85.1" r="0.7" fill="#000"/>
<circle cx="269.7" cy="86" r="0.7" fill="#000"/>
<circle cx="272.2" cy="86" r="0.7" fill="#000"/>
<circle cx="260" cy="88.5" r="0.7" fill="#000"/>
<circle cx="263" cy="88.1" r="0.7" fill="#000"/>
<circle cx="263.8" cy="88.5" r="0.7" fill="#000"/>
<circle cx="271.8" cy="88.9" r="0.7" fill="#000"/>
<circle cx="276.4" cy="89.3" r="0.7" fill="#000"/>
<circle cx="282.2" cy="88.1" r="0.7" fill="#000"/>
<circle cx="270.1" cy="91.4" r="0.7" fill="#000"/>
<circle cx="275.1" cy="92.2" r="0.7" fill="#000"/>
<circle cx="277.6" cy="91.4" r="0.7" fill="#000"/>
<circle cx="277.2" cy="94.3" r="0.7" fill="#000"/>
<circle cx="283.5" cy="95.2" r="0.7" fill="#000"/>
<circle cx="279.3" cy="99.8" r="0.7" fill="#000"/>
<circle cx="277.6" cy="102.3" r="0.7" fill="#000"/>
<circle cx="295.1" cy="81.4" r="0.7" fill="#000"/>
<circle cx="282" cy="88.5" r="0.7" fill="#000"/>
<circle cx="286.7" cy="92.7" r="0.7" fill="#000"/>
<circle cx="287.5" cy="95.5" r="0.7" fill="#000"/>
<circle cx="283.4" cy="95.5" r="0.7" fill="#000"/>
<circle cx="328.6" cy="87.6" r="0.7" fill="#000"/>
<circle cx="330.6" cy="88.8" r="0.7" fill="#000"/>
<circle cx="329.4" cy="96" r="0.7" fill="#000"/>
<circle cx="337" cy="94.3" r="0.7" fill="#000"/>
<circle cx="338.6" cy="96" r="0.7" fill="#000"/>
<circle cx="286.8" cy="92.8" r="0.7" fill="#000"/>
<circle cx="288" cy="96.1" r="0.7" fill="#000"/>
<circle cx="279.6" cy="99.5" r="0.7" fill="#000"/>
<circle cx="253.6" cy="64.3" r="0.7" fill="#000"/>
<circle cx="250" cy="73.8" r="0.7" fill="#000"/>
<circle cx="240.5" cy="75.6" r="0.7" fill="#000"/>
<circle cx="254.1" cy="77" r="0.7" fill="#000"/>
<circle cx="255.3" cy="77.5" r="0.7" fill="#000"/>
<circle cx="256.3" cy="72.8" r="0.7" fill="#000"/>
<circle cx="269" cy="74.6" r="0.7" fill="#000"/>
<circle cx="264.8" cy="83" r="0.7" fill="#000"/>
<circle cx="266" cy="82.5" r="0.7" fill="#000"/>
<g transform="translate(0,155.5)">
<path d="M175.5,11.5 H17.5 V124.5 H175.5 V11.5" fill="none" stroke="#585858" stroke-width="1.1"/>
<line x1="14.6" y1="124.82" x2="17.5" y2="124.82" stroke="#555" stroke-width="0.9"/>
<text x="14.4" y="127.32" font-size="4.5" text-anchor="end" fill="#262626" stroke="#262626" stroke-width="0.2">-4</text>
<line x1="14.6" y1="112.07" x2="17.5" y2="112.07" stroke="#555" stroke-width="0.9"/>
<text x="14.4" y="114.57" font-size="4.5" text-anchor="end" fill="#262626" stroke="#262626" stroke-width="0.2">-3</text>
<line x1="14.6" y1="99.32" x2="17.5" y2="99.32" stroke="#555" stroke-width="0.9"/>
<text x="14.4" y="101.82" font-size="4.5" text-anchor="end" fill="#262626" stroke="#262626" stroke-width="0.2">-2</text>
<line x1="14.6" y1="86.57" x2="17.5" y2="86.57" stroke="#555" stroke-width="0.9"/>
<text x="14.4" y="89.07" font-size="4.5" text-anchor="end" fill="#262626" stroke="#262626" stroke-width="0.2">-1</text>
<line x1="14.6" y1="73.82" x2="17.5" y2="73.82" stroke="#555" stroke-width="0.9"/>
<text x="14.4" y="76.32" font-size="4.5" text-anchor="end" fill="#262626" stroke="#262626" stroke-width="0.2">0</text>
<line x1="14.6" y1="61.07" x2="17.5" y2="61.07" stroke="#555" stroke-width="0.9"/>
<text x="14.4" y="63.57" font-size="4.5" text-anchor="end" fill="#262626" stroke="#262626" stroke-width="0.2">1</text>
<line x1="14.6" y1="48.32" x2="17.5" y2="48.32" stroke="#555" stroke-width="0.9"/>
<text x="14.4" y="50.82" font-size="4.5" text-anchor="end" fill="#262626" stroke="#262626" stroke-width="0.2">2</text>
<line x1="14.6" y1="35.57" x2="17.5" y2="35.57" stroke="#555" stroke-width="0.9"/>
<text x="14.4" y="38.07" font-size="4.5" text-anchor="end" fill="#262626" stroke="#262626" stroke-width="0.2">3</text>
<line x1="14.6" y1="22.82" x2="17.5" y2="22.82" stroke="#555" stroke-width="0.9"/>
<text x="14.4" y="25.32" font-size="4.5" text-anchor="end" fill="#262626" stroke="#262626" stroke-width="0.2">4</text>
<line x1="25.20" y1="124.5" x2="25.20" y2="127.6" stroke="#555" stroke-width="0.9"/>
<text x="25.20" y="132.3" font-size="4.5" text-anchor="middle" fill="#262626" stroke="#262626" stroke-width="0.2">0</text>
<line x1="43.05" y1="124.5" x2="43.05" y2="127.6" stroke="#555" stroke-width="0.9"/>
<text x="43.05" y="132.3" font-size="4.5" text-anchor="middle" fill="#262626" stroke="#262626" stroke-width="0.2">1</text>
<line x1="60.90" y1="124.5" x2="60.90" y2="127.6" stroke="#555" stroke-width="0.9"/>
<text x="60.90" y="132.3" font-size="4.5" text-anchor="middle" fill="#262626" stroke="#262626" stroke-width="0.2">2</text>
<line x1="78.75" y1="124.5" x2="78.75" y2="127.6" stroke="#555" stroke-width="0.9"/>
<text x="78.75" y="132.3" font-size="4.5" text-anchor="middle" fill="#262626" stroke="#262626" stroke-width="0.2">3</text>
<line x1="96.60" y1="124.5" x2="96.60" y2="127.6" stroke="#555" stroke-width="0.9"/>
<text x="96.60" y="132.3" font-size="4.5" text-anchor="middle" fill="#262626" stroke="#262626" stroke-width="0.2">4</text>
<line x1="114.45" y1="124.5" x2="114.45" y2="127.6" stroke="#555" stroke-width="0.9"/>
<text x="114.45" y="132.3" font-size="4.5" text-anchor="middle" fill="#262626" stroke="#262626" stroke-width="0.2">5</text>
<line x1="132.30" y1="124.5" x2="132.30" y2="127.6" stroke="#555" stroke-width="0.9"/>
<text x="132.30" y="132.3" font-size="4.5" text-anchor="middle" fill="#262626" stroke="#262626" stroke-width="0.2">6</text>
<line x1="150.15" y1="124.5" x2="150.15" y2="127.6" stroke="#555" stroke-width="0.9"/>
<text x="150.15" y="132.3" font-size="4.5" text-anchor="middle" fill="#262626" stroke="#262626" stroke-width="0.2">7</text>
<line x1="168.00" y1="124.5" x2="168.00" y2="127.6" stroke="#555" stroke-width="0.9"/>
<text x="168.00" y="132.3" font-size="4.5" text-anchor="middle" fill="#262626" stroke="#262626" stroke-width="0.2">8</text>
<line x1="17.5" y1="50.7" x2="175.5" y2="50.7" stroke="#505050" stroke-width="1.0" stroke-dasharray="1.7 1.9"/>
<line x1="17.5" y1="53.0" x2="175.5" y2="53.0" stroke="#707070" stroke-width="1"/>
<line x1="17.5" y1="55.0" x2="175.5" y2="55.0" stroke="#505050" stroke-width="1.0" stroke-dasharray="1.7 1.9"/>
<line x1="17.5" y1="73.1" x2="175.5" y2="73.1" stroke="#505050" stroke-width="1.0" stroke-dasharray="1.7 1.9"/>
<line x1="17.5" y1="75.0" x2="175.5" y2="75.0" stroke="#707070" stroke-width="1"/>
<line x1="17.5" y1="76.7" x2="175.5" y2="76.7" stroke="#505050" stroke-width="1.0" stroke-dasharray="1.7 1.9"/>
<line x1="17.5" y1="94.9" x2="175.5" y2="94.9" stroke="#505050" stroke-width="1.0" stroke-dasharray="1.7 1.9"/>
<line x1="17.5" y1="97.0" x2="175.5" y2="97.0" stroke="#707070" stroke-width="1"/>
<line x1="17.5" y1="99.9" x2="175.5" y2="99.9" stroke="#505050" stroke-width="1.0" stroke-dasharray="1.7 1.9"/>
<text x="80.70" y="7.10" font-size="9.1" font-weight="bold" fill="#000" stroke="#000" stroke-width="0.45" textLength="12.60" lengthAdjust="spacingAndGlyphs">PA</text>
<text transform="translate(60.55,141.50) scale(0.860,1)" font-size="5.7" font-weight="bold" fill="#151515" stroke="#151515" stroke-width="0.45" textLength="44.53" lengthAdjust="spacing">[Clpa + Clref]/2,</text>
<text transform="translate(100.85,141.50) scale(0.816,1)" font-size="5.7" font-weight="bold" fill="#151515" stroke="#151515" stroke-width="0.45" textLength="20.58" lengthAdjust="spacing">mL·min</text>
<text transform="translate(118.35,139.30) scale(0.626,1)" font-size="4.2" font-weight="bold" fill="#151515" stroke="#151515" stroke-width="0.45" textLength="4.79" lengthAdjust="spacing">−1</text>
<text transform="translate(122.05,141.50) scale(0.860,1)" font-size="5.7" font-weight="bold" fill="#151515" stroke="#151515" stroke-width="0.45" textLength="7.09" lengthAdjust="spacing">·m</text>
<text transform="translate(128.75,139.30) scale(0.585,1)" font-size="4.2" font-weight="bold" fill="#151515" stroke="#151515" stroke-width="0.45" textLength="4.79" lengthAdjust="spacing">−2</text>
<g transform="translate(5.3,68.05) rotate(-90)">
<text transform="translate(-30.55,0.00) scale(0.860,1)" font-size="5.7" font-weight="bold" fill="#2a2a2a" stroke="#2a2a2a" stroke-width="0.22" textLength="34.30" lengthAdjust="spacing">Clpa - Clref,</text>
<text transform="translate(0.15,0.00) scale(0.782,1)" font-size="5.7" font-weight="bold" fill="#2a2a2a" stroke="#2a2a2a" stroke-width="0.22" textLength="20.58" lengthAdjust="spacing">mL·min</text>
<text transform="translate(17.85,-2.20) scale(0.459,1)" font-size="4.2" font-weight="bold" fill="#2a2a2a" stroke="#2a2a2a" stroke-width="0.22" textLength="4.79" lengthAdjust="spacing">−1</text>
<text transform="translate(20.55,0.00) scale(0.860,1)" font-size="5.7" font-weight="bold" fill="#2a2a2a" stroke="#2a2a2a" stroke-width="0.22" textLength="6.98" lengthAdjust="spacing">·m</text>
<text transform="translate(28.35,-2.20) scale(0.459,1)" font-size="4.2" font-weight="bold" fill="#2a2a2a" stroke="#2a2a2a" stroke-width="0.22" textLength="4.79" lengthAdjust="spacing">−2</text>
</g>
</g>
<circle cx="72.2" cy="210.5" r="0.7" fill="#000"/>
<circle cx="75.5" cy="213" r="0.7" fill="#000"/>
<circle cx="80.5" cy="212.2" r="0.7" fill="#000"/>
<circle cx="77.6" cy="215.5" r="0.7" fill="#000"/>
<circle cx="83.1" cy="214.7" r="0.7" fill="#000"/>
<circle cx="85.1" cy="213" r="0.7" fill="#000"/>
<circle cx="86.8" cy="210.9" r="0.7" fill="#000"/>
<circle cx="88.9" cy="212.6" r="0.7" fill="#000"/>
<circle cx="86.8" cy="216.4" r="0.7" fill="#000"/>
<circle cx="65.4" cy="216.4" r="0.7" fill="#000"/>
<circle cx="74.7" cy="217.2" r="0.7" fill="#000"/>
<circle cx="77.2" cy="218.3" r="0.7" fill="#000"/>
<circle cx="73.8" cy="219.3" r="0.7" fill="#000"/>
<circle cx="80.1" cy="218.9" r="0.7" fill="#000"/>
<circle cx="90.4" cy="200.5" r="0.7" fill="#000"/>
<circle cx="93.8" cy="200.9" r="0.7" fill="#000"/>
<circle cx="91.3" cy="207.2" r="0.7" fill="#000"/>
<circle cx="94.2" cy="207.6" r="0.7" fill="#000"/>
<circle cx="97.2" cy="209.7" r="0.7" fill="#000"/>
<circle cx="86.7" cy="210.5" r="0.7" fill="#000"/>
<circle cx="88.8" cy="212.6" r="0.7" fill="#000"/>
<circle cx="89.6" cy="213" r="0.7" fill="#000"/>
<circle cx="85.8" cy="213" r="0.7" fill="#000"/>
<circle cx="95.1" cy="214.3" r="0.7" fill="#000"/>
<circle cx="77.6" cy="218.4" r="0.7" fill="#000"/>
<circle cx="72.6" cy="220.4" r="0.7" fill="#000"/>
<circle cx="79.7" cy="219.6" r="0.7" fill="#000"/>
<circle cx="82.6" cy="221.3" r="0.7" fill="#000"/>
<circle cx="86.4" cy="221.7" r="0.7" fill="#000"/>
<circle cx="88.9" cy="220.9" r="0.7" fill="#000"/>
<circle cx="67.5" cy="223.4" r="0.7" fill="#000"/>
<circle cx="70.9" cy="225.5" r="0.7" fill="#000"/>
<circle cx="73.8" cy="225.1" r="0.7" fill="#000"/>
<circle cx="77.6" cy="223.4" r="0.7" fill="#000"/>
<circle cx="78.9" cy="223.4" r="0.7" fill="#000"/>
<circle cx="82.6" cy="223.4" r="0.7" fill="#000"/>
<circle cx="85.1" cy="225.5" r="0.7" fill="#000"/>
<circle cx="87.7" cy="226.9" r="0.7" fill="#000"/>
<circle cx="77.2" cy="225.9" r="0.7" fill="#000"/>
<circle cx="60.8" cy="226.3" r="0.7" fill="#000"/>
<circle cx="63.4" cy="227.6" r="0.7" fill="#000"/>
<circle cx="69.6" cy="227.6" r="0.7" fill="#000"/>
<circle cx="73.4" cy="229.2" r="0.7" fill="#000"/>
<circle cx="80.5" cy="228" r="0.7" fill="#000"/>
<circle cx="84.3" cy="227.2" r="0.7" fill="#000"/>
<circle cx="86.8" cy="227.6" r="0.7" fill="#000"/>
<circle cx="82.6" cy="230.1" r="0.7" fill="#000"/>
<circle cx="60.8" cy="232.2" r="0.7" fill="#000"/>
<circle cx="63.4" cy="233" r="0.7" fill="#000"/>
<circle cx="66.7" cy="232.6" r="0.7" fill="#000"/>
<circle cx="68" cy="233.9" r="0.7" fill="#000"/>
<circle cx="70.9" cy="235.1" r="0.7" fill="#000"/>
<circle cx="74.7" cy="234.3" r="0.7" fill="#000"/>
<circle cx="75.5" cy="236" r="0.7" fill="#000"/>
<circle cx="77.6" cy="234.3" r="0.7" fill="#000"/>
<circle cx="78.9" cy="233" r="0.7" fill="#000"/>
<circle cx="81.4" cy="234.7" r="0.7" fill="#000"/>
<circle cx="82.2" cy="236" r="0.7" fill="#000"/>
<circle cx="85.1" cy="231.8" r="0.7" fill="#000"/>
<circle cx="86.4" cy="232.6" r="0.7" fill="#000"/>
<circle cx="88.5" cy="236" r="0.7" fill="#000"/>
<circle cx="63.8" cy="237.2" r="0.7" fill="#000"/>
<circle cx="67.1" cy="237.2" r="0.7" fill="#000"/>
<circle cx="68.4" cy="238.5" r="0.7" fill="#000"/>
<circle cx="72.6" cy="237.6" r="0.7" fill="#000"/>
<circle cx="73.8" cy="238.9" r="0.7" fill="#000"/>
<circle cx="77.6" cy="239.3" r="0.7" fill="#000"/>
<circle cx="80.5" cy="237.6" r="0.7" fill="#000"/>
<circle cx="84.3" cy="237.2" r="0.7" fill="#000"/>
<circle cx="85.6" cy="238.9" r="0.7" fill="#000"/>
<circle cx="89.3" cy="212.9" r="0.7" fill="#000"/>
<circle cx="94.7" cy="213.8" r="0.7" fill="#000"/>
<circle cx="95.5" cy="217.1" r="0.7" fill="#000"/>
<circle cx="90.5" cy="218.8" r="0.7" fill="#000"/>
<circle cx="93.4" cy="218.8" r="0.7" fill="#000"/>
<circle cx="91.8" cy="220.9" r="0.7" fill="#000"/>
<circle cx="95.1" cy="220.5" r="0.7" fill="#000"/>
<circle cx="109.8" cy="220.5" r="0.7" fill="#000"/>
<circle cx="88.8" cy="223" r="0.7" fill="#000"/>
<circle cx="91.4" cy="224.2" r="0.7" fill="#000"/>
<circle cx="89.7" cy="226.3" r="0.7" fill="#000"/>
<circle cx="93.4" cy="227.6" r="0.7" fill="#000"/>
<circle cx="99.7" cy="227.6" r="0.7" fill="#000"/>
<circle cx="103.5" cy="229.3" r="0.7" fill="#000"/>
<circle cx="89.7" cy="230.1" r="0.7" fill="#000"/>
<circle cx="93" cy="232.2" r="0.7" fill="#000"/>
<circle cx="97.2" cy="232.2" r="0.7" fill="#000"/>
<circle cx="98.5" cy="232.6" r="0.7" fill="#000"/>
<circle cx="107.3" cy="233.5" r="0.7" fill="#000"/>
<circle cx="89.3" cy="232.2" r="0.7" fill="#000"/>
<circle cx="66.7" cy="237.1" r="0.7" fill="#000"/>
<circle cx="68" cy="238.8" r="0.7" fill="#000"/>
<circle cx="70.9" cy="235.4" r="0.7" fill="#000"/>
<circle cx="72.2" cy="238.4" r="0.7" fill="#000"/>
<circle cx="73.4" cy="241.3" r="0.7" fill="#000"/>
<circle cx="74.7" cy="235.8" r="0.7" fill="#000"/>
<circle cx="77.6" cy="238.8" r="0.7" fill="#000"/>
<circle cx="81.4" cy="237.5" r="0.7" fill="#000"/>
<circle cx="82.2" cy="240" r="0.7" fill="#000"/>
<circle cx="85.6" cy="237.1" r="0.7" fill="#000"/>
<circle cx="86.8" cy="238.4" r="0.7" fill="#000"/>
<circle cx="88.5" cy="240.4" r="0.7" fill="#000"/>
<circle cx="61.7" cy="240.9" r="0.7" fill="#000"/>
<circle cx="66.7" cy="242.5" r="0.7" fill="#000"/>
<circle cx="77.6" cy="242.5" r="0.7" fill="#000"/>
<circle cx="79.7" cy="243.4" r="0.7" fill="#000"/>
<circle cx="83.1" cy="243" r="0.7" fill="#000"/>
<circle cx="60.8" cy="245.1" r="0.7" fill="#000"/>
<circle cx="79.3" cy="246.7" r="0.7" fill="#000"/>
<circle cx="86" cy="247.2" r="0.7" fill="#000"/>
<circle cx="61.7" cy="250.1" r="0.7" fill="#000"/>
<circle cx="90.9" cy="235.9" r="0.7" fill="#000"/>
<circle cx="90.9" cy="238.8" r="0.7" fill="#000"/>
<circle cx="92.2" cy="238.4" r="0.7" fill="#000"/>
<circle cx="88.4" cy="240.5" r="0.7" fill="#000"/>
<circle cx="93.4" cy="241.3" r="0.7" fill="#000"/>
<circle cx="97.6" cy="238.8" r="0.7" fill="#000"/>
<circle cx="101" cy="237.1" r="0.7" fill="#000"/>
<circle cx="108.5" cy="237.4" r="0.7" fill="#000"/>
<circle cx="100.6" cy="242.2" r="0.7" fill="#000"/>
<circle cx="108.1" cy="243" r="0.7" fill="#000"/>
<circle cx="96.4" cy="252.5" r="0.7" fill="#000"/>
<circle cx="93.6" cy="241.2" r="0.7" fill="#000"/>
<circle cx="100.7" cy="241.9" r="0.7" fill="#000"/>
<circle cx="107.8" cy="242.9" r="0.7" fill="#000"/>
<circle cx="125.6" cy="242.4" r="0.7" fill="#000"/>
<circle cx="95.9" cy="251.9" r="0.7" fill="#000"/>
<circle cx="119.7" cy="250.7" r="0.7" fill="#000"/>
<circle cx="122.1" cy="251.9" r="0.7" fill="#000"/>
<circle cx="125.6" cy="250.7" r="0.7" fill="#000"/>
<circle cx="128" cy="250" r="0.7" fill="#000"/>
<circle cx="94.8" cy="260.9" r="0.7" fill="#000"/>
<circle cx="106.2" cy="265" r="0.7" fill="#000"/>
<circle cx="118.9" cy="251" r="0.7" fill="#000"/>
<circle cx="96.1" cy="207.4" r="0.7" fill="#000"/>
<circle cx="59.9" cy="226.3" r="0.7" fill="#000"/>
<circle cx="62.6" cy="228" r="0.7" fill="#000"/>
<circle cx="57.7" cy="233.5" r="0.7" fill="#000"/>
<circle cx="60.4" cy="231.9" r="0.7" fill="#000"/>
<circle cx="63.7" cy="237.4" r="0.7" fill="#000"/>
<circle cx="62.1" cy="240.7" r="0.7" fill="#000"/>
<circle cx="64.8" cy="216.4" r="0.7" fill="#000"/>
<g transform="translate(182.5,156)">
<path d="M174.5,11.5 H17.5 V124.5 H174.5" fill="none" stroke="#585858" stroke-width="1.1"/>
<line x1="14.6" y1="124.82" x2="17.5" y2="124.82" stroke="#555" stroke-width="0.9"/>
<text x="14.4" y="127.32" font-size="4.5" text-anchor="end" fill="#262626" stroke="#262626" stroke-width="0.2">-4</text>
<line x1="14.6" y1="112.07" x2="17.5" y2="112.07" stroke="#555" stroke-width="0.9"/>
<text x="14.4" y="114.57" font-size="4.5" text-anchor="end" fill="#262626" stroke="#262626" stroke-width="0.2">-3</text>
<line x1="14.6" y1="99.32" x2="17.5" y2="99.32" stroke="#555" stroke-width="0.9"/>
<text x="14.4" y="101.82" font-size="4.5" text-anchor="end" fill="#262626" stroke="#262626" stroke-width="0.2">-2</text>
<line x1="14.6" y1="86.57" x2="17.5" y2="86.57" stroke="#555" stroke-width="0.9"/>
<text x="14.4" y="89.07" font-size="4.5" text-anchor="end" fill="#262626" stroke="#262626" stroke-width="0.2">-1</text>
<line x1="14.6" y1="73.82" x2="17.5" y2="73.82" stroke="#555" stroke-width="0.9"/>
<text x="14.4" y="76.32" font-size="4.5" text-anchor="end" fill="#262626" stroke="#262626" stroke-width="0.2">0</text>
<line x1="14.6" y1="61.07" x2="17.5" y2="61.07" stroke="#555" stroke-width="0.9"/>
<text x="14.4" y="63.57" font-size="4.5" text-anchor="end" fill="#262626" stroke="#262626" stroke-width="0.2">1</text>
<line x1="14.6" y1="48.32" x2="17.5" y2="48.32" stroke="#555" stroke-width="0.9"/>
<text x="14.4" y="50.82" font-size="4.5" text-anchor="end" fill="#262626" stroke="#262626" stroke-width="0.2">2</text>
<line x1="14.6" y1="35.57" x2="17.5" y2="35.57" stroke="#555" stroke-width="0.9"/>
<text x="14.4" y="38.07" font-size="4.5" text-anchor="end" fill="#262626" stroke="#262626" stroke-width="0.2">3</text>
<line x1="14.6" y1="22.82" x2="17.5" y2="22.82" stroke="#555" stroke-width="0.9"/>
<text x="14.4" y="25.32" font-size="4.5" text-anchor="end" fill="#262626" stroke="#262626" stroke-width="0.2">4</text>
<line x1="25.20" y1="124.5" x2="25.20" y2="127.6" stroke="#555" stroke-width="0.9"/>
<text x="25.20" y="132.3" font-size="4.5" text-anchor="middle" fill="#262626" stroke="#262626" stroke-width="0.2">0</text>
<line x1="43.05" y1="124.5" x2="43.05" y2="127.6" stroke="#555" stroke-width="0.9"/>
<text x="43.05" y="132.3" font-size="4.5" text-anchor="middle" fill="#262626" stroke="#262626" stroke-width="0.2">1</text>
<line x1="60.90" y1="124.5" x2="60.90" y2="127.6" stroke="#555" stroke-width="0.9"/>
<text x="60.90" y="132.3" font-size="4.5" text-anchor="middle" fill="#262626" stroke="#262626" stroke-width="0.2">2</text>
<line x1="78.75" y1="124.5" x2="78.75" y2="127.6" stroke="#555" stroke-width="0.9"/>
<text x="78.75" y="132.3" font-size="4.5" text-anchor="middle" fill="#262626" stroke="#262626" stroke-width="0.2">3</text>
<line x1="96.60" y1="124.5" x2="96.60" y2="127.6" stroke="#555" stroke-width="0.9"/>
<text x="96.60" y="132.3" font-size="4.5" text-anchor="middle" fill="#262626" stroke="#262626" stroke-width="0.2">4</text>
<line x1="114.45" y1="124.5" x2="114.45" y2="127.6" stroke="#555" stroke-width="0.9"/>
<text x="114.45" y="132.3" font-size="4.5" text-anchor="middle" fill="#262626" stroke="#262626" stroke-width="0.2">5</text>
<line x1="132.30" y1="124.5" x2="132.30" y2="127.6" stroke="#555" stroke-width="0.9"/>
<text x="132.30" y="132.3" font-size="4.5" text-anchor="middle" fill="#262626" stroke="#262626" stroke-width="0.2">6</text>
<line x1="150.15" y1="124.5" x2="150.15" y2="127.6" stroke="#555" stroke-width="0.9"/>
<text x="150.15" y="132.3" font-size="4.5" text-anchor="middle" fill="#262626" stroke="#262626" stroke-width="0.2">7</text>
<line x1="168.00" y1="124.5" x2="168.00" y2="127.6" stroke="#555" stroke-width="0.9"/>
<text x="168.00" y="132.3" font-size="4.5" text-anchor="middle" fill="#262626" stroke="#262626" stroke-width="0.2">8</text>
<line x1="17.5" y1="70.0" x2="174.5" y2="70.0" stroke="#6a6a6a" stroke-width="1"/>
<line x1="17.5" y1="70.0" x2="174.5" y2="70.0" stroke="#111" stroke-width="1.6" stroke-dasharray="1.6 2.0"/>
<line x1="17.5" y1="73.4" x2="174.5" y2="73.4" stroke="#6a6a6a" stroke-width="1"/>
<line x1="17.5" y1="73.4" x2="174.5" y2="73.4" stroke="#333" stroke-width="1.3" stroke-dasharray="1.7 1.9"/>
<line x1="17.5" y1="76.9" x2="174.5" y2="76.9" stroke="#6a6a6a" stroke-width="1"/>
<line x1="17.5" y1="76.9" x2="174.5" y2="76.9" stroke="#111" stroke-width="1.6" stroke-dasharray="1.6 2.0"/>
<text x="80.10" y="7.40" font-size="9.1" font-weight="bold" fill="#000" stroke="#000" stroke-width="0.45" textLength="12.40" lengthAdjust="spacingAndGlyphs">TD</text>
<text transform="translate(59.65,141.50) scale(0.860,1)" font-size="5.7" font-weight="bold" fill="#151515" stroke="#151515" stroke-width="0.45" textLength="46.63" lengthAdjust="spacing">[Clref + Clref]/2,</text>
<text transform="translate(101.75,141.50) scale(0.816,1)" font-size="5.7" font-weight="bold" fill="#151515" stroke="#151515" stroke-width="0.45" textLength="20.58" lengthAdjust="spacing">mL·min</text>
<text transform="translate(119.25,139.30) scale(0.626,1)" font-size="4.2" font-weight="bold" fill="#151515" stroke="#151515" stroke-width="0.45" textLength="4.79" lengthAdjust="spacing">−1</text>
<text transform="translate(122.95,141.50) scale(0.860,1)" font-size="5.7" font-weight="bold" fill="#151515" stroke="#151515" stroke-width="0.45" textLength="7.09" lengthAdjust="spacing">·m</text>
<text transform="translate(129.65,139.30) scale(0.585,1)" font-size="4.2" font-weight="bold" fill="#151515" stroke="#151515" stroke-width="0.45" textLength="4.79" lengthAdjust="spacing">−2</text>
<g transform="translate(5.5,67.0) rotate(-90)">
<text transform="translate(-30.65,0.00) scale(0.860,1)" font-size="5.7" font-weight="bold" fill="#2a2a2a" stroke="#2a2a2a" stroke-width="0.22" textLength="34.53" lengthAdjust="spacing">Clref - Clref,</text>
<text transform="translate(0.25,0.00) scale(0.782,1)" font-size="5.7" font-weight="bold" fill="#2a2a2a" stroke="#2a2a2a" stroke-width="0.22" textLength="20.58" lengthAdjust="spacing">mL·min</text>
<text transform="translate(17.95,-2.20) scale(0.459,1)" font-size="4.2" font-weight="bold" fill="#2a2a2a" stroke="#2a2a2a" stroke-width="0.22" textLength="4.79" lengthAdjust="spacing">−1</text>
<text transform="translate(20.65,0.00) scale(0.860,1)" font-size="5.7" font-weight="bold" fill="#2a2a2a" stroke="#2a2a2a" stroke-width="0.22" textLength="6.98" lengthAdjust="spacing">·m</text>
<text transform="translate(28.45,-2.20) scale(0.459,1)" font-size="4.2" font-weight="bold" fill="#2a2a2a" stroke="#2a2a2a" stroke-width="0.22" textLength="4.79" lengthAdjust="spacing">−2</text>
</g>
</g>
<circle cx="268.2" cy="231.7" r="0.7" fill="#000"/>
<circle cx="253.1" cy="229.1" r="0.7" fill="#000"/>
<circle cx="258.7" cy="229.5" r="0.7" fill="#000"/>
<circle cx="264.4" cy="229.9" r="0.7" fill="#000"/>
<circle cx="263.0" cy="228.6" r="0.7" fill="#000"/>
<circle cx="246.6" cy="226.2" r="0.7" fill="#000"/>
<circle cx="242.5" cy="232.6" r="0.7" fill="#000"/>
<circle cx="265.4" cy="228.3" r="0.7" fill="#000"/>
<circle cx="266.4" cy="230.6" r="0.7" fill="#000"/>
<circle cx="250.8" cy="227.1" r="0.7" fill="#000"/>
<circle cx="255.0" cy="228.8" r="0.7" fill="#000"/>
<circle cx="260.1" cy="230.3" r="0.7" fill="#000"/>
<circle cx="273.4" cy="228.5" r="0.7" fill="#000"/>
<circle cx="271.4" cy="228.5" r="0.7" fill="#000"/>
<circle cx="275.4" cy="229.6" r="0.7" fill="#000"/>
<circle cx="272.1" cy="231.7" r="0.7" fill="#000"/>
<circle cx="251.3" cy="230.4" r="0.7" fill="#000"/>
<circle cx="260.5" cy="229.5" r="0.7" fill="#000"/>
<circle cx="256.1" cy="232.2" r="0.7" fill="#000"/>
<circle cx="264.1" cy="226.0" r="0.7" fill="#000"/>
<circle cx="253.3" cy="228.6" r="0.7" fill="#000"/>
<circle cx="250.2" cy="226.0" r="0.7" fill="#000"/>
<circle cx="268.4" cy="230.5" r="0.7" fill="#000"/>
<circle cx="273.3" cy="230.6" r="0.7" fill="#000"/>
<circle cx="276.8" cy="229.3" r="0.7" fill="#000"/>
<circle cx="251.5" cy="231.4" r="0.7" fill="#000"/>
<circle cx="256.0" cy="229.8" r="0.7" fill="#000"/>
<circle cx="274.5" cy="230.7" r="0.7" fill="#000"/>
<circle cx="261.1" cy="231.4" r="0.7" fill="#000"/>
<circle cx="244.8" cy="227.2" r="0.7" fill="#000"/>
<circle cx="289.2" cy="230.3" r="0.7" fill="#000"/>
<circle cx="256.7" cy="228.0" r="0.7" fill="#000"/>
<circle cx="297.5" cy="230.4" r="0.7" fill="#000"/>
<circle cx="263.8" cy="230.7" r="0.7" fill="#000"/>
<circle cx="249.7" cy="229.7" r="0.7" fill="#000"/>
<circle cx="269.9" cy="229.6" r="0.7" fill="#000"/>
<circle cx="241.8" cy="227.6" r="0.7" fill="#000"/>
<circle cx="249.3" cy="229.2" r="0.7" fill="#000"/>
<circle cx="278.2" cy="230.9" r="0.7" fill="#000"/>
<circle cx="271.7" cy="227.1" r="0.7" fill="#000"/>
<circle cx="257.8" cy="230.0" r="0.7" fill="#000"/>
<circle cx="263.9" cy="229.8" r="0.7" fill="#000"/>
<circle cx="265.1" cy="231.0" r="0.7" fill="#000"/>
<circle cx="265.9" cy="229.5" r="0.7" fill="#000"/>
<circle cx="259.7" cy="229.8" r="0.7" fill="#000"/>
<circle cx="276.8" cy="230.4" r="0.7" fill="#000"/>
<circle cx="266.2" cy="228.9" r="0.7" fill="#000"/>
<circle cx="299.6" cy="230.2" r="0.7" fill="#000"/>
<circle cx="257.4" cy="229.6" r="0.7" fill="#000"/>
<circle cx="257.3" cy="230.7" r="0.7" fill="#000"/>
<circle cx="249.7" cy="234.1" r="0.7" fill="#000"/>
<circle cx="264.0" cy="230.9" r="0.7" fill="#000"/>
<circle cx="269.5" cy="224.3" r="0.7" fill="#000"/>
<circle cx="281.8" cy="228.6" r="0.7" fill="#000"/>
<circle cx="257.6" cy="230.4" r="0.7" fill="#000"/>
<circle cx="246.5" cy="228.8" r="0.7" fill="#000"/>
<circle cx="263.6" cy="232.9" r="0.7" fill="#000"/>
<circle cx="334.1" cy="230.7" r="0.7" fill="#000"/>
<circle cx="246.3" cy="229.8" r="0.7" fill="#000"/>
<circle cx="271.2" cy="229.9" r="0.7" fill="#000"/>
<circle cx="261.4" cy="229.3" r="0.7" fill="#000"/>
<circle cx="317.9" cy="232.4" r="0.7" fill="#000"/>
<circle cx="299.3" cy="231.2" r="0.7" fill="#000"/>
<circle cx="258.7" cy="229.7" r="0.7" fill="#000"/>
<circle cx="266.6" cy="226.6" r="0.7" fill="#000"/>
<circle cx="268.8" cy="226.6" r="0.7" fill="#000"/>
<circle cx="262.1" cy="228.7" r="0.7" fill="#000"/>
<circle cx="273.5" cy="227.7" r="0.7" fill="#000"/>
<circle cx="255.7" cy="229.7" r="0.7" fill="#000"/>
<circle cx="260.0" cy="231.1" r="0.7" fill="#000"/>
<circle cx="239.5" cy="225.8" r="0.7" fill="#000"/>
<circle cx="273.0" cy="230.0" r="0.7" fill="#000"/>
<circle cx="264.9" cy="232.3" r="0.7" fill="#000"/>
<circle cx="252.3" cy="232.0" r="0.7" fill="#000"/>
<circle cx="239.9" cy="228.1" r="0.7" fill="#000"/>
<circle cx="269.7" cy="234.5" r="0.7" fill="#000"/>
<circle cx="263.0" cy="225.1" r="0.7" fill="#000"/>
<circle cx="257.7" cy="232.0" r="0.7" fill="#000"/>
<circle cx="249.5" cy="229.5" r="0.7" fill="#000"/>
<circle cx="268.1" cy="228.2" r="0.7" fill="#000"/>
<circle cx="257.6" cy="232.3" r="0.7" fill="#000"/>
<circle cx="274.7" cy="227.1" r="0.7" fill="#000"/>
<circle cx="265.2" cy="230.2" r="0.7" fill="#000"/>
<circle cx="270.1" cy="227.2" r="0.7" fill="#000"/>
<circle cx="258.9" cy="228.4" r="0.7" fill="#000"/>
<circle cx="263.0" cy="229.9" r="0.7" fill="#000"/>
<circle cx="256.0" cy="229.1" r="0.7" fill="#000"/>
<circle cx="250.3" cy="227.1" r="0.7" fill="#000"/>
<circle cx="246.4" cy="229.2" r="0.7" fill="#000"/>
<circle cx="261.1" cy="231.0" r="0.7" fill="#000"/>
<circle cx="250.1" cy="229.4" r="0.7" fill="#000"/>
<circle cx="268.8" cy="228.4" r="0.7" fill="#000"/>
<circle cx="250.8" cy="229.4" r="0.7" fill="#000"/>
<circle cx="251.0" cy="230.2" r="0.7" fill="#000"/>
<circle cx="273.3" cy="228.4" r="0.7" fill="#000"/>
<circle cx="296.5" cy="229.4" r="0.7" fill="#000"/>
<circle cx="290.4" cy="231.9" r="0.7" fill="#000"/>
<circle cx="267.6" cy="230.9" r="0.7" fill="#000"/>
<circle cx="261.2" cy="230.2" r="0.7" fill="#000"/>
<circle cx="264.8" cy="225.5" r="0.7" fill="#000"/>
<circle cx="258.4" cy="226.8" r="0.7" fill="#000"/>
<circle cx="277.5" cy="226.2" r="0.7" fill="#000"/>
<circle cx="269.2" cy="228.9" r="0.7" fill="#000"/>
<circle cx="277.0" cy="229.3" r="0.7" fill="#000"/>
<circle cx="251.7" cy="230.5" r="0.7" fill="#000"/>
<circle cx="263.5" cy="231.1" r="0.7" fill="#000"/>
<circle cx="271.7" cy="229.8" r="0.7" fill="#000"/>
<circle cx="268.6" cy="229.7" r="0.7" fill="#000"/>
<circle cx="257.9" cy="229.4" r="0.7" fill="#000"/>
<circle cx="331.5" cy="230.4" r="0.7" fill="#000"/>
<circle cx="260.3" cy="232.7" r="0.7" fill="#000"/>
<circle cx="264.6" cy="230.9" r="0.7" fill="#000"/>
<circle cx="289.1" cy="230.9" r="0.7" fill="#000"/>
<circle cx="272.3" cy="232.9" r="0.7" fill="#000"/>
<circle cx="259.9" cy="228.7" r="0.7" fill="#000"/>
<circle cx="257.6" cy="227.6" r="0.7" fill="#000"/>
<circle cx="272.2" cy="228.5" r="0.7" fill="#000"/>
<circle cx="245.0" cy="229.9" r="0.7" fill="#000"/>
<circle cx="267.2" cy="228.9" r="0.7" fill="#000"/>
<circle cx="242.6" cy="228.1" r="0.7" fill="#000"/>
<circle cx="268.2" cy="231.2" r="0.7" fill="#000"/>
<circle cx="264.9" cy="230.2" r="0.7" fill="#000"/>
<circle cx="263.2" cy="231.1" r="0.7" fill="#000"/>
<circle cx="261.4" cy="227.9" r="0.7" fill="#000"/>
<circle cx="264.4" cy="231.1" r="0.7" fill="#000"/>
<circle cx="261.0" cy="229.8" r="0.7" fill="#000"/>
<circle cx="255.8" cy="229.1" r="0.7" fill="#000"/>
<circle cx="264.7" cy="229.1" r="0.7" fill="#000"/>
<circle cx="265.9" cy="225.9" r="0.7" fill="#000"/>
<circle cx="261.5" cy="226.6" r="0.7" fill="#000"/>
<circle cx="313.7" cy="229.4" r="0.7" fill="#000"/>
<circle cx="282.4" cy="228.2" r="0.7" fill="#000"/>
<circle cx="254.5" cy="230.4" r="0.7" fill="#000"/>
<circle cx="262.5" cy="229.4" r="0.7" fill="#000"/>
<circle cx="254.5" cy="232.6" r="0.7" fill="#000"/>
<circle cx="280.2" cy="231.3" r="0.7" fill="#000"/>
<circle cx="261.3" cy="231.1" r="0.7" fill="#000"/>
<circle cx="266.1" cy="231.2" r="0.7" fill="#000"/>
<circle cx="283.1" cy="228.3" r="0.7" fill="#000"/>
<circle cx="261.8" cy="234.4" r="0.7" fill="#000"/>
<circle cx="260.8" cy="229.6" r="0.7" fill="#000"/>
<circle cx="251.1" cy="229.9" r="0.7" fill="#000"/>
<circle cx="260.2" cy="229.5" r="0.7" fill="#000"/>
<circle cx="268.3" cy="230.5" r="0.7" fill="#000"/>
<circle cx="268.2" cy="229.7" r="0.7" fill="#000"/>
<circle cx="252.0" cy="228.3" r="0.7" fill="#000"/>
<circle cx="253.6" cy="227.0" r="0.7" fill="#000"/>
<circle cx="263.4" cy="227.0" r="0.7" fill="#000"/>
<circle cx="282.8" cy="229.1" r="0.7" fill="#000"/>
<circle cx="249.0" cy="231.5" r="0.7" fill="#000"/>
<circle cx="245.6" cy="229.1" r="0.7" fill="#000"/>
<circle cx="245.5" cy="227.3" r="0.7" fill="#000"/>
<circle cx="288.3" cy="229.2" r="0.7" fill="#000"/>
<circle cx="275.0" cy="231.8" r="0.7" fill="#000"/>
<circle cx="253.0" cy="229.6" r="0.7" fill="#000"/>
<circle cx="263.1" cy="228.9" r="0.7" fill="#000"/>
<circle cx="273.5" cy="230.2" r="0.7" fill="#000"/>
<circle cx="252.0" cy="227.5" r="0.7" fill="#000"/>
<circle cx="276.2" cy="229.6" r="0.7" fill="#000"/>
<circle cx="250.5" cy="229.5" r="0.7" fill="#000"/>
<circle cx="273.7" cy="230.8" r="0.7" fill="#000"/>
<circle cx="267.0" cy="230.2" r="0.7" fill="#000"/>
<circle cx="264.9" cy="232.5" r="0.7" fill="#000"/>
<circle cx="319.8" cy="227.9" r="0.7" fill="#000"/>
<circle cx="267.5" cy="229.8" r="0.7" fill="#000"/>
<circle cx="249.3" cy="230.4" r="0.7" fill="#000"/>
<circle cx="263.2" cy="229.4" r="0.7" fill="#000"/>
<circle cx="253.8" cy="230.2" r="0.7" fill="#000"/>
<circle cx="261.2" cy="228.1" r="0.7" fill="#000"/>
<circle cx="249.5" cy="228.9" r="0.7" fill="#000"/>
<circle cx="270.9" cy="228.6" r="0.7" fill="#000"/>
<circle cx="252.0" cy="229.7" r="0.7" fill="#000"/>
<circle cx="337.5" cy="231.6" r="0.7" fill="#000"/>
<circle cx="298.1" cy="229.7" r="0.7" fill="#000"/>
<circle cx="260.3" cy="230.8" r="0.7" fill="#000"/>
<circle cx="252.6" cy="228.6" r="0.7" fill="#000"/>
<circle cx="258.7" cy="230.5" r="0.7" fill="#000"/>
<circle cx="270.5" cy="229.2" r="0.7" fill="#000"/>
<circle cx="282.2" cy="230.0" r="0.7" fill="#000"/>
<circle cx="279.0" cy="229.7" r="0.7" fill="#000"/>
<circle cx="261.1" cy="228.0" r="0.7" fill="#000"/>
<circle cx="263.2" cy="228.6" r="0.7" fill="#000"/>
<circle cx="240.1" cy="230.9" r="0.7" fill="#000"/>
<circle cx="263.3" cy="228.7" r="0.7" fill="#000"/>
<circle cx="282.8" cy="230.8" r="0.7" fill="#000"/>
<circle cx="256.9" cy="224.2" r="0.7" fill="#000"/>
<circle cx="280.4" cy="228.2" r="0.7" fill="#000"/>
<circle cx="267.9" cy="230.3" r="0.7" fill="#000"/>
<circle cx="257.1" cy="229.8" r="0.7" fill="#000"/>
<circle cx="255.0" cy="229.3" r="0.7" fill="#000"/>
<circle cx="271.1" cy="226.2" r="0.7" fill="#000"/>
<circle cx="288.7" cy="232.9" r="0.7" fill="#000"/>
<circle cx="278.3" cy="227.2" r="0.7" fill="#000"/>
<circle cx="260.5" cy="228.9" r="0.7" fill="#000"/>
<circle cx="247.5" cy="230.5" r="0.7" fill="#000"/>
<circle cx="260.4" cy="230.1" r="0.7" fill="#000"/>
<circle cx="247.6" cy="227.8" r="0.7" fill="#000"/>
<circle cx="262.4" cy="229.1" r="0.7" fill="#000"/>
<circle cx="239" cy="228.6" r="0.7" fill="#000"/>
<circle cx="255.0" cy="228.6" r="0.7" fill="#000"/>
<circle cx="264.2" cy="230.6" r="0.7" fill="#000"/>
<circle cx="278.8" cy="230.3" r="0.7" fill="#000"/>
<circle cx="318.0" cy="233.6" r="0.7" fill="#000"/>
<circle cx="262.3" cy="230.3" r="0.7" fill="#000"/>
<circle cx="266.3" cy="230.3" r="0.7" fill="#000"/>
<circle cx="244.9" cy="227.8" r="0.7" fill="#000"/>
<circle cx="253.5" cy="230.5" r="0.7" fill="#000"/>
<circle cx="255.5" cy="230.7" r="0.7" fill="#000"/>
<circle cx="257.2" cy="234.4" r="0.7" fill="#000"/>
<circle cx="249.0" cy="229.4" r="0.7" fill="#000"/>
<circle cx="253.0" cy="229.3" r="0.7" fill="#000"/>
<circle cx="267.4" cy="225.1" r="0.7" fill="#000"/>
<circle cx="292.4" cy="231.1" r="0.7" fill="#000"/>
<circle cx="274.1" cy="230.1" r="0.7" fill="#000"/>
<circle cx="268.4" cy="229.5" r="0.7" fill="#000"/>
<circle cx="260.9" cy="232.7" r="0.7" fill="#000"/>
<circle cx="298.3" cy="227.9" r="0.7" fill="#000"/>
<circle cx="264.8" cy="230.2" r="0.7" fill="#000"/>
<circle cx="252.6" cy="225.4" r="0.7" fill="#000"/>
<circle cx="252.3" cy="226.9" r="0.7" fill="#000"/>
<circle cx="258.7" cy="229.3" r="0.7" fill="#000"/>
<circle cx="254.0" cy="231.9" r="0.7" fill="#000"/>
<circle cx="255.1" cy="230.5" r="0.7" fill="#000"/>
<circle cx="265.7" cy="229.2" r="0.7" fill="#000"/>
<circle cx="257.1" cy="227.0" r="0.7" fill="#000"/>
<circle cx="259.3" cy="229.9" r="0.7" fill="#000"/>
<circle cx="272.4" cy="228.8" r="0.7" fill="#000"/>
<circle cx="325.8" cy="231.5" r="0.7" fill="#000"/>
<circle cx="268.5" cy="229.6" r="0.7" fill="#000"/>
<circle cx="328.2" cy="230.9" r="0.7" fill="#000"/>
<circle cx="270.9" cy="229.8" r="0.7" fill="#000"/>
<circle cx="255.3" cy="230.2" r="0.7" fill="#000"/>
<circle cx="266.4" cy="228.9" r="0.7" fill="#000"/>
<circle cx="256.3" cy="231.2" r="0.7" fill="#000"/>
<circle cx="265.9" cy="232.7" r="0.7" fill="#000"/>
<circle cx="255.2" cy="229.5" r="0.7" fill="#000"/>
<circle cx="312.5" cy="230.1" r="0.7" fill="#000"/>
<circle cx="255.4" cy="229.6" r="0.7" fill="#000"/>
<circle cx="319.8" cy="227.9" r="0.7" fill="#000"/>
<circle cx="262.5" cy="231.4" r="0.7" fill="#000"/>
<circle cx="265.5" cy="229.2" r="0.7" fill="#000"/>
<circle cx="266.3" cy="234.5" r="0.7" fill="#000"/>
<circle cx="263.8" cy="229.7" r="0.7" fill="#000"/>
<circle cx="275.1" cy="227.1" r="0.7" fill="#000"/>
<circle cx="280.7" cy="229.4" r="0.7" fill="#000"/>
<circle cx="268.9" cy="233.6" r="0.7" fill="#000"/>
<circle cx="273.3" cy="230.1" r="0.7" fill="#000"/>
<circle cx="255.6" cy="230.7" r="0.7" fill="#000"/>
<circle cx="267.9" cy="229.5" r="0.7" fill="#000"/>
<circle cx="265.2" cy="229.2" r="0.7" fill="#000"/>
<circle cx="308.3" cy="227.3" r="0.7" fill="#000"/>
<circle cx="265.9" cy="232.3" r="0.7" fill="#000"/>
<circle cx="252.9" cy="229.8" r="0.7" fill="#000"/>
<circle cx="251.6" cy="226.8" r="0.7" fill="#000"/>
<circle cx="274.7" cy="226.6" r="0.7" fill="#000"/>
<circle cx="269.3" cy="230.0" r="0.7" fill="#000"/>
<circle cx="261.6" cy="230.8" r="0.7" fill="#000"/>
<circle cx="257.8" cy="230.9" r="0.7" fill="#000"/>
<circle cx="256.4" cy="232.0" r="0.7" fill="#000"/>
<circle cx="257.9" cy="229.2" r="0.7" fill="#000"/>
<circle cx="253.7" cy="232.7" r="0.7" fill="#000"/>
<circle cx="278.0" cy="229.6" r="0.7" fill="#000"/>
<circle cx="241.5" cy="229.7" r="0.7" fill="#000"/>
<circle cx="338.2" cy="231.6" r="0.7" fill="#000"/>
<circle cx="260.9" cy="231.5" r="0.7" fill="#000"/>
<circle cx="265.9" cy="229.0" r="0.7" fill="#000"/>
<circle cx="284.3" cy="230.9" r="0.7" fill="#000"/>
<circle cx="247.9" cy="228.7" r="0.7" fill="#000"/>
<circle cx="267.6" cy="229.7" r="0.7" fill="#000"/>
<circle cx="257.6" cy="229.5" r="0.7" fill="#000"/>
<circle cx="254.6" cy="231.9" r="0.7" fill="#000"/>
<circle cx="263.3" cy="233.4" r="0.7" fill="#000"/>
<circle cx="310.6" cy="229.0" r="0.7" fill="#000"/>
<circle cx="269.2" cy="230.8" r="0.7" fill="#000"/>
<circle cx="255.1" cy="230.0" r="0.7" fill="#000"/>
<circle cx="251.7" cy="227.5" r="0.7" fill="#000"/>
<circle cx="268.2" cy="227.2" r="0.7" fill="#000"/>
<circle cx="264.8" cy="228.2" r="0.7" fill="#000"/>
<circle cx="251.3" cy="231.7" r="0.7" fill="#000"/>
<circle cx="261.1" cy="230.9" r="0.7" fill="#000"/>
<circle cx="269.3" cy="227.8" r="0.7" fill="#000"/>
<circle cx="239.9" cy="233.1" r="0.7" fill="#000"/>
<circle cx="262.8" cy="232.9" r="0.7" fill="#000"/>
<circle cx="264.9" cy="229.4" r="0.7" fill="#000"/>
<circle cx="267.9" cy="226.2" r="0.7" fill="#000"/>
<circle cx="242.4" cy="229.2" r="0.7" fill="#000"/>
<circle cx="265.1" cy="232.0" r="0.7" fill="#000"/>
<circle cx="262.3" cy="229.1" r="0.7" fill="#000"/>
<circle cx="266.9" cy="229.3" r="0.7" fill="#000"/>
<circle cx="246.3" cy="232.8" r="0.7" fill="#000"/>
<circle cx="256.7" cy="228.6" r="0.7" fill="#000"/>
<circle cx="264.6" cy="230.5" r="0.7" fill="#000"/>
<circle cx="251.0" cy="227.9" r="0.7" fill="#000"/>
<circle cx="268.5" cy="229.6" r="0.7" fill="#000"/>
<circle cx="263.9" cy="231.0" r="0.7" fill="#000"/>
<circle cx="264.0" cy="227.2" r="0.7" fill="#000"/>
<circle cx="267.9" cy="230.6" r="0.7" fill="#000"/>
<circle cx="258.6" cy="228.9" r="0.7" fill="#000"/>
<circle cx="258.1" cy="227.7" r="0.7" fill="#000"/>
<circle cx="253.6" cy="233.9" r="0.7" fill="#000"/>
<circle cx="264.2" cy="223.3" r="0.7" fill="#000"/>
<circle cx="270.1" cy="223.3" r="0.7" fill="#000"/>
<circle cx="277.8" cy="223.5" r="0.7" fill="#000"/>
<circle cx="264.9" cy="235.3" r="0.7" fill="#000"/>
<circle cx="272.3" cy="235.5" r="0.7" fill="#000"/>
<circle cx="264.2" cy="237.5" r="0.7" fill="#000"/>
<circle cx="276.7" cy="233.8" r="0.7" fill="#000"/>
<circle cx="296.8" cy="224.1" r="0.7" fill="#000"/>
<circle cx="299.4" cy="223.7" r="0.7" fill="#000"/>
<circle cx="314.4" cy="231.1" r="0.7" fill="#000"/>
<circle cx="317.9" cy="232.9" r="0.7" fill="#000"/>
<circle cx="326.7" cy="229" r="0.7" fill="#000"/>
<circle cx="335.5" cy="223.2" r="0.7" fill="#000"/>
<circle cx="335.5" cy="232" r="0.7" fill="#000"/>
<circle cx="297.6" cy="232.9" r="0.7" fill="#000"/>
<circle cx="299.4" cy="232.9" r="0.7" fill="#000"/>
<circle cx="238.5" cy="229.3" r="0.7" fill="#000"/>
<circle cx="249.4" cy="234.7" r="0.7" fill="#000"/>
<circle cx="251.5" cy="235.1" r="0.7" fill="#000"/>
<circle cx="263.7" cy="223.4" r="0.7" fill="#000"/>
<circle cx="264.9" cy="236.3" r="0.7" fill="#000"/>
<circle cx="292.2" cy="224.8" r="0.7" fill="#000"/>
<circle cx="298" cy="224.3" r="0.7" fill="#000"/>
<circle cx="298.5" cy="233.6" r="0.7" fill="#000"/>
</g>
</svg></div>
</body></html>
